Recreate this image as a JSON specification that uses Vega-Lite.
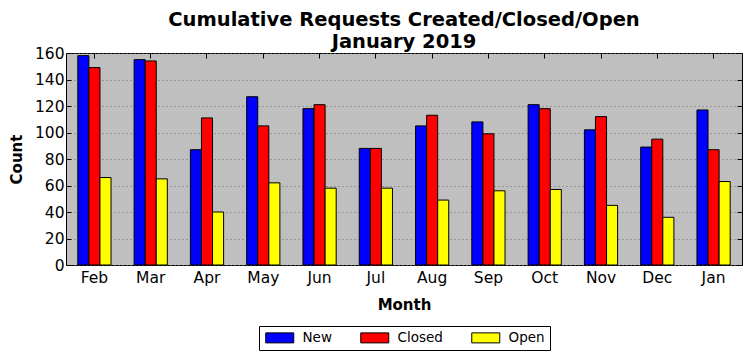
{
  "$schema": "https://vega.github.io/schema/vega-lite/v6.json",
  "width": 676,
  "height": 212,
  "autosize": {"type": "none"},
  "padding": {"left": 66, "top": 53, "right": 10, "bottom": 96},
  "background": "white",
  "title": {
    "text": ["Cumulative Requests Created/Closed/Open", "January 2019"],
    "font": "DejaVu Sans",
    "fontSize": 19.5,
    "fontWeight": "bold",
    "color": "black",
    "anchor": "middle",
    "lineHeight": 22,
    "offset": -6
  },
  "config": {
    "font": "DejaVu Sans",
    "view": {"fill": "#bfbfbf", "stroke": "black", "strokeWidth": 1},
    "axis": {
      "labelFont": "DejaVu Sans",
      "labelFontSize": 15.5,
      "labelColor": "black",
      "titleFont": "DejaVu Sans",
      "titleFontSize": 15,
      "titleFontWeight": "bold",
      "titleColor": "black",
      "domain": false,
      "tickColor": "black",
      "tickSize": -5,
      "tickWidth": 1
    }
  },
  "data": {
    "values": [
      {"month": "Feb", "series": "New", "value": 158},
      {"month": "Feb", "series": "Closed", "value": 149},
      {"month": "Feb", "series": "Open", "value": 66},
      {"month": "Mar", "series": "New", "value": 155},
      {"month": "Mar", "series": "Closed", "value": 154},
      {"month": "Mar", "series": "Open", "value": 65},
      {"month": "Apr", "series": "New", "value": 87},
      {"month": "Apr", "series": "Closed", "value": 111},
      {"month": "Apr", "series": "Open", "value": 40},
      {"month": "May", "series": "New", "value": 127},
      {"month": "May", "series": "Closed", "value": 105},
      {"month": "May", "series": "Open", "value": 62},
      {"month": "Jun", "series": "New", "value": 118},
      {"month": "Jun", "series": "Closed", "value": 121},
      {"month": "Jun", "series": "Open", "value": 58},
      {"month": "Jul", "series": "New", "value": 88},
      {"month": "Jul", "series": "Closed", "value": 88},
      {"month": "Jul", "series": "Open", "value": 58},
      {"month": "Aug", "series": "New", "value": 105},
      {"month": "Aug", "series": "Closed", "value": 113},
      {"month": "Aug", "series": "Open", "value": 49},
      {"month": "Sep", "series": "New", "value": 108},
      {"month": "Sep", "series": "Closed", "value": 99},
      {"month": "Sep", "series": "Open", "value": 56},
      {"month": "Oct", "series": "New", "value": 121},
      {"month": "Oct", "series": "Closed", "value": 118},
      {"month": "Oct", "series": "Open", "value": 57},
      {"month": "Nov", "series": "New", "value": 102},
      {"month": "Nov", "series": "Closed", "value": 112},
      {"month": "Nov", "series": "Open", "value": 45},
      {"month": "Dec", "series": "New", "value": 89},
      {"month": "Dec", "series": "Closed", "value": 95},
      {"month": "Dec", "series": "Open", "value": 36},
      {"month": "Jan", "series": "New", "value": 117},
      {"month": "Jan", "series": "Closed", "value": 87},
      {"month": "Jan", "series": "Open", "value": 63}
    ]
  },
  "layer": [
    {
      "mark": {"type": "bar", "stroke": "black", "strokeWidth": 1},
      "encoding": {
        "x": {
          "field": "month",
          "type": "nominal",
          "sort": ["Feb", "Mar", "Apr", "May", "Jun", "Jul", "Aug", "Sep", "Oct", "Nov", "Dec", "Jan"],
          "scale": {"paddingInner": 0.41, "paddingOuter": 0.21},
          "axis": {"title": "Month", "labelAngle": 0, "labelPadding": 10, "titlePadding": 12, "grid": false}
        },
        "xOffset": {
          "field": "series",
          "type": "nominal",
          "sort": ["New", "Closed", "Open"],
          "scale": {"paddingInner": 0, "paddingOuter": 0}
        },
        "y": {
          "field": "value",
          "type": "quantitative",
          "scale": {"domain": [0, 160], "nice": false},
          "axis": {
            "title": "Count",
            "values": [0, 20, 40, 60, 80, 100, 120, 140, 160],
            "grid": true,
            "gridColor": "#6e6e6e",
            "gridDash": [1, 3],
            "gridWidth": 1,
            "labelPadding": 7,
            "titlePadding": 10
          }
        },
        "color": {
          "field": "series",
          "type": "nominal",
          "sort": ["New", "Closed", "Open"],
          "scale": {"domain": ["New", "Closed", "Open"], "range": ["#0000ff", "#ff0000", "#ffff00"]},
          "legend": {
            "title": null,
            "orient": "none",
            "direction": "horizontal",
            "legendX": 193,
            "legendY": 273,
            "strokeColor": "black",
            "fillColor": "white",
            "padding": 5,
            "labelFont": "DejaVu Sans",
            "labelFontSize": 13.5,
            "labelColor": "black",
            "labelOffset": 25,
            "columnPadding": 26,
            "symbolType": "M-1,-1H4.6V1H-1Z",
            "symbolSize": 100,
            "symbolStrokeColor": "black",
            "symbolStrokeWidth": 1,
            "symbolOpacity": 1
          }
        }
      }
    },
    {
      "mark": {"type": "point", "opacity": 0},
      "encoding": {
        "x": {
          "field": "month",
          "type": "nominal",
          "sort": ["Feb", "Mar", "Apr", "May", "Jun", "Jul", "Aug", "Sep", "Oct", "Nov", "Dec", "Jan"],
          "axis": {"orient": "top", "labels": false, "title": null, "grid": false}
        },
        "y": {
          "field": "value",
          "type": "quantitative",
          "axis": {"orient": "right", "labels": false, "title": null, "grid": false, "values": [0, 20, 40, 60, 80, 100, 120, 140, 160]}
        }
      }
    }
  ],
  "resolve": {"axis": {"x": "independent", "y": "independent"}}
}
